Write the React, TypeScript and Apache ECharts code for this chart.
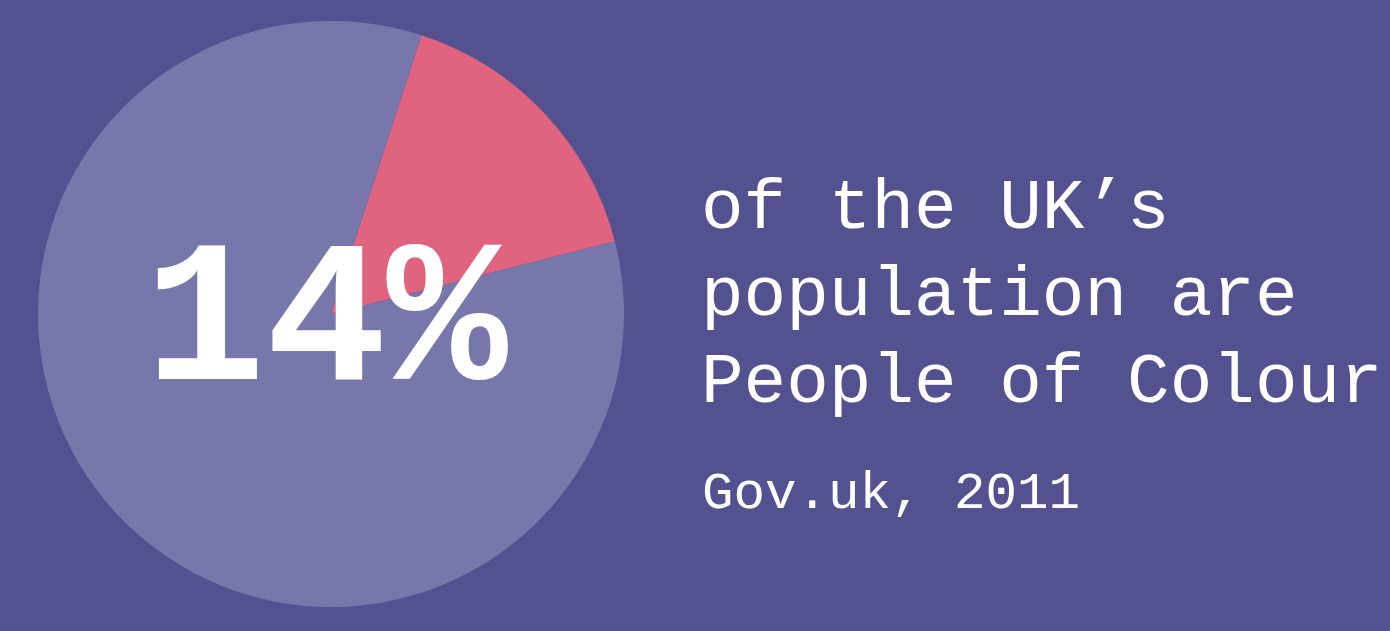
import React, { useEffect, useRef } from "react";
import * as echarts from "echarts";

const categories = ["People of Colour", "Other"];
const values = [16, 84];
const sliceColors = ["#e06380", "#7877ab"];
const headline = "14%";
const captionLines = ["of the UK’s", "population are", "People of Colour"];
const source = "Gov.uk, 2011";

export default function App() {
  const ref = useRef<HTMLDivElement>(null);
  useEffect(() => {
    document.body.style.margin = "0";
    const chart = echarts.init(ref.current!, null, { renderer: "svg" });
    const mono = "Liberation Mono";
    const captionFs = 71;
    const captionBaselines = [228, 315, 402];
    const graphics: any[] = captionLines.map((t, i) => ({
      type: "text",
      x: 701,
      y: captionBaselines[i] - 0.267 * captionFs,
      style: {
        text: t,
        fill: "#ffffff",
        font: `${captionFs}px "${mono}"`,
        align: "left",
        verticalAlign: "middle",
      },
      silent: true,
    }));
    graphics.push({
      type: "text",
      x: 702,
      y: 508 - 0.267 * 52.5,
      style: {
        text: source,
        fill: "#ffffff",
        font: `52.5px "${mono}"`,
        align: "left",
        verticalAlign: "middle",
      },
      silent: true,
    });
    const headFs = 202;
    graphics.push({
      type: "text",
      x: 326,
      y: 386 - 0.3 * headFs,
      z: 100,
      style: {
        text: headline,
        fill: "#ffffff",
        font: `bold ${headFs}px "${mono}"`,
        align: "center",
        verticalAlign: "middle",
      },
      silent: true,
    });
    chart.setOption({
      animation: false,
      backgroundColor: "#545190",
      series: [
        {
          type: "pie",
          center: [331, 314],
          radius: 293,
          startAngle: 72,
          clockwise: true,
          label: { show: false },
          labelLine: { show: false },
          emphasis: { disabled: true },
          itemStyle: { borderWidth: 0 },
          data: categories.map((c, i) => ({
            name: c,
            value: values[i],
            itemStyle: { color: sliceColors[i] },
          })),
        },
      ],
      graphic: graphics,
    });
    return () => chart.dispose();
  }, []);
  return <div ref={ref} style={{ width: 1390, height: 631 }} />;
}
